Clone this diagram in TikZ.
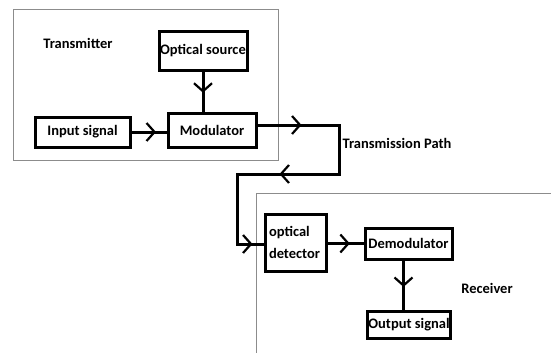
\documentclass[tikz,border=0pt]{standalone}
\usepackage{fontspec}
\setmainfont{Carlito}
\usetikzlibrary{arrows.meta,decorations.markings}
\tikzset{
  txt/.style={font=\fontsize{14.5}{20}\selectfont\bfseries},
  blk/.style={txt, draw=black, line width=3pt, fill=white, inner sep=1pt},
  lbl/.style={txt, inner sep=0pt},
  grp/.style={draw=black!45, line width=1pt},
  conn/.style={line width=3pt, line join=miter},
  barb/.tip={Straight Barb[length=8pt,width=18pt,line width=2.2pt]},
  chev/.style={decoration={markings, mark=at position #1 with {\arrow{barb}}}, postaction=decorate},
}
\begin{document}
\begin{tikzpicture}[x=1pt,y=-1pt]
\useasboundingbox (0,0) rectangle (551,353);
% group frames
\draw[grp] (13,10) rectangle (278,160);
\draw[grp] (551,193) -- (256,193) -- (256,353);
% labels
\node[lbl] (tx) at (78,43) {Transmitter};
\node[lbl] (tp) at (397,143) {Transmission Path};
\node[lbl] (rx) at (487,288) {Receiver};
% blocks
\node[blk, minimum width=88pt, minimum height=38pt] (os) at (203,51) {Optical source};
\node[blk, minimum width=95pt, minimum height=30pt] (in) at (82.5,132) {Input signal};
\node[blk, minimum width=88pt, minimum height=34pt] (mod) at (212,130) {Modulator};
\node[blk, minimum width=61pt, minimum height=57pt, text width=53pt, align=left, inner xsep=4pt, inner ysep=2pt] (det) at (295.5,242.5) {optical\\[2pt]detector};
\node[blk, minimum width=87pt, minimum height=31pt] (dem) at (408.5,243.5) {Demodulator};
\node[blk, minimum width=82pt, minimum height=27pt] (out) at (409,324.5) {Output signal};
% path corners
\coordinate (t1) at (339,125);
\coordinate (t2) at (339,174);
\coordinate (t3) at (237,174);
\coordinate (t4) at (237,244);
% connectors
\draw[conn, chev=0.53] (os.south) -- (os.south |- mod.north);
\draw[conn, chev=0.7] (in.east) -- (in.east -| mod.west);
\draw[conn,
  decoration={markings,
    mark=at position 44pt with {\arrow{barb}},
    mark=at position 190pt with {\arrow{barb}},
    mark=at position 318pt with {\arrow{barb}}},
  postaction=decorate]
  (mod.east |- t1) -- (t1) -- (t2) -- (t3) -- (t4) -- (t4 -| det.west);
\draw[conn, chev=0.62] (det.east |- dem.west) -- (dem.west);
\draw[conn, chev=0.54] ([xshift=-5pt]dem.south) -- ([xshift=-5pt]dem.south |- out.north);
\end{tikzpicture}
\end{document}
